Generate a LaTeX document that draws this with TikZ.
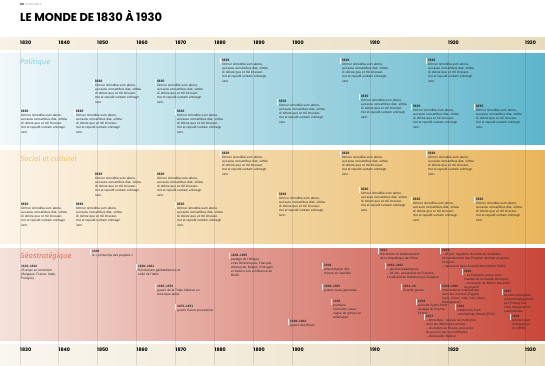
\documentclass[tikz,border=0pt]{standalone}
\usepackage{fontspec}
\usepackage{xcolor}
\setmainfont{Liberation Sans}
\newfontfamily\yearfont{Poppins}
\newfontfamily\themefont{Fira Sans}
\usetikzlibrary{positioning}
\definecolor{bandleft}{HTML}{F7F1E6}
\definecolor{bandright}{HTML}{E9DCBE}
\definecolor{polleft}{HTML}{F1F8FA}
\definecolor{polright}{HTML}{5EB5CB}
\definecolor{socleft}{HTML}{FCF4E8}
\definecolor{socright}{HTML}{E8B55B}
\definecolor{geoleft}{HTML}{F5E2DB}
\definecolor{georight}{HTML}{C9473A}
\definecolor{poltext}{HTML}{8FD0E1}
\definecolor{soctext}{HTML}{F0C46C}
\definecolor{geotext}{HTML}{E2705F}
\newcommand{\loremtxt}{Omnur simoditia sum abore, aut auta consertibus diat, simita di dolore que et mil imusserrtut et repudit suntam enimagn iunn.}

\begin{document}
\begin{tikzpicture}[x=1pt,y=-1pt,
    decade/.style={anchor=west,inner sep=0,font=\yearfont\bfseries\fontsize{4.8}{5}\selectfont},
    theme/.style={anchor=west,inner sep=0,font=\themefont\itshape\fontsize{7.5}{8}\selectfont},
    fact/.style={anchor=north west,inner sep=0,align=left,text=black!85,font=\fontsize{3.2}{4}\selectfont},
    lorem/.style={fact,text width=46pt,font=\fontsize{3.2}{4.1}\selectfont},
    tick/.style={white,line width=1.1pt},
    gridline/.style={black,opacity=0.1,line width=0.4pt}]
  \useasboundingbox (0,0) rectangle (545,365);

  % header
  \node[anchor=base west,inner sep=0,font=\fontsize{3}{3}\selectfont] (kicker) at (20,5) {\textbf{XX}\ \textcolor{black!35}{BLABLABLA}};
  \node[anchor=base west,inner sep=0,font=\yearfont\bfseries\fontsize{11.5}{13}\selectfont] (title) at (20,21) {LE MONDE DE 1830 À 1930};

  % bands
  \shade[left color=bandleft,right color=bandright] (0,37) rectangle (545,49);
  \shade[left color=polleft,right color=polright] (0,53) rectangle (545,144);
  \shade[left color=socleft,right color=socright] (0,150) rectangle (545,243);
  \shade[left color=geoleft,right color=georight] (0,248) rectangle (545,340);
  \shade[left color=bandleft!60,right color=bandright] (0,344) rectangle (545,365);

  % decades
  \foreach \yr/\x in {1830/20,1840/58.5,1850/97,1860/136.5,1870/175.5,1880/214.5,1890/253.5,1900/292.5,1910/370,1920/448,1930/525} {
    \draw[gridline] (\x,49) -- (\x,365);
    \node[decade] (top\yr) at (\x,43) {\yr};
    \node[decade] (bot\yr) at (\x,350) {\yr};
  }

  % themes
  \node[theme,text=poltext] (politique) at (20,62) {Politique};
  \node[theme,text=soctext] (social) at (20,159) {Social et culturel};
  \node[theme,text=geotext] (geo) at (20,256.5) {Géostratégique};

  % politique et social
  \foreach \dy/\p in {0/p,93/s}
    \foreach \x/\y [count=\i] in {222/59,342/59,428/59,95/80,157/80,21/110,76/110,177/110,279/100,361/95,413/105,476/105} {
      \node[lorem] (\p\i) at (\x,\y+\dy) {{\yearfont\bfseries 1830}\\\loremtxt};
      \draw[tick] ([xshift=-1.5pt,yshift=1pt]\p\i.north west) -- ++(0,6);
    }

  % geostrategique
  \node[fact] (g1) at (21,265) {\textbf{1830–1832}\\l'Europe en révolution\\(Belgique, France, Italie,\\Pologne)};
  \node[fact] (g2) at (92,250) {\textbf{1848}\\le « printemps des peuples »};
  \node[fact] (g3) at (138,265) {\textbf{1860–1861}\\Révolutions garibaldiennes et\\unité de l'Italie};
  \node[fact] (g4) at (157,285) {\textbf{1865–1870}\\guerre de la Triple Alliance en\\Amérique latine};
  \node[fact] (g5) at (177,305) {\textbf{1870–1871}\\guerre franco-prussienne};
  \node[fact] (g6) at (231,254) {\textbf{1884–1885}\\partage de l'Afrique\\entre Britanniques, Français,\\Allemands, Belges, Portugais\\et Italiens à la conférence de\\Berlin};
  \node[fact] (g7) at (290,320) {\textbf{1899–1902}\\guerre des Boers};
  \node[fact] (g8) at (324,264) {\textbf{1904}\\extermination des\\Herero en Namibie};
  \node[fact] (g9) at (324,285) {\textbf{1904–1905}\\guerre russo-japonaise};
  \node[fact] (g10) at (333,300) {\textbf{1905}\\première\\révolution russe ;\\vague de grèves en\\Allemagne};
  \node[fact] (g11) at (380,249) {\textbf{1911}\\Révolution et établissement\\de la République de Chine};
  \node[fact] (g12) at (387,264) {\textbf{1912–1913}\\– guerres balkaniques\\– 28 juin, assassinat de François-\\Ferdinand de Habsbourg à Sarajevo};
  \node[fact] (g13) at (403,285) {\textbf{1914–18}\\Grande guerre};
  \node[fact] (g14) at (418,300) {\textbf{1916}\\accords Sykes-Picot :\\partage du Proche-\\Orient};
  \node[fact] (g15) at (426,315) {\textbf{1917}\\– printemps : vagues de mutineries\\dans les différentes armées\\– révolution en Russie, puis prise\\du pouvoir par les bolcheviks\\– Déclaration Balfour};
  \node[fact] (g16) at (442,249) {\textbf{1919}\\– 28 juin, signature du traité de Versailles ;\\démantèlement des Empires ottoman et austro-\\hongrois\\– naissance de la Société des nations (SDN)};
  \node[fact] (g17) at (464,270) {\textbf{1922}\\– La Palestine passe sous\\mandat de la Grande-Bretagne\\– Accession de Benito Mussolini\\au pouvoir};
  \node[fact] (g18) at (442,285) {\textbf{1919–1920}\\mouvements nationalistes\\dans les colonies (Égypte,\\Syrie, Chine, Inde, Iran, Liban,\\Madagascar)};
  \node[fact] (g19) at (457,305) {\textbf{1921}\\création du Parti\\communiste chinois (PCC)};
  \node[fact] (g20) at (504,290) {\textbf{1927}\\le parti nationaliste\\(Guomindang) fondé\\par Tchang Kaï-\\chek massacre les\\communistes};
  \node[fact] (g21) at (512,315) {\textbf{1928}\\premier plan\\quinquennal\\en URSS};
  \foreach \i in {1,...,21}
    \draw[tick,opacity=0.85] ([xshift=-1.5pt,yshift=1pt]g\i.north west) -- ++(0,6);
\end{tikzpicture}
\end{document}
